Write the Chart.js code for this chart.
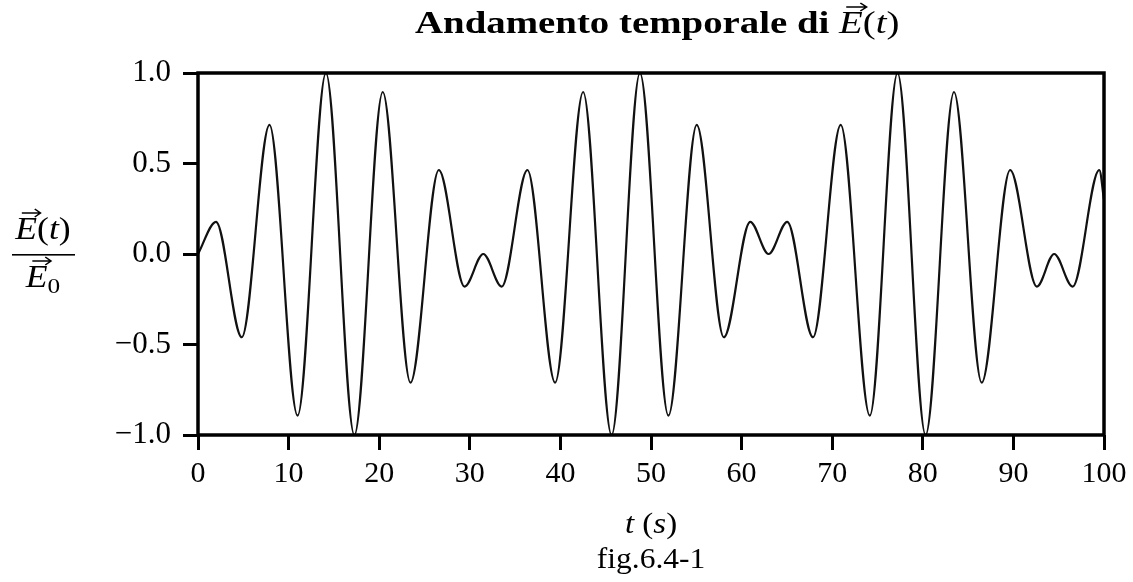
<!DOCTYPE html>
<html lang="it">
<head>
<meta charset="utf-8">
<title>Andamento temporale di E(t)</title>
<script src="https://cdn.jsdelivr.net/npm/chart.js@4.4.1/dist/chart.umd.min.js"></script>
<style>
  html, body { margin: 0; padding: 0; background: #fff; }
  canvas { display: block; }
</style>
</head>
<body>
<canvas id="grafico" width="1133" height="582"></canvas>
<script>
// istanti (s) dei massimi e minimi
const tempi = [
  0, 1.99, 4.83, 7.89, 10.99, 14.12, 17.26, 20.39, 23.45, 26.58,
  29.42, 31.49, 33.52, 36.36, 39.42, 42.51, 45.65, 48.78, 51.92, 55.05,
  58.04, 60.95, 62.98, 65.04, 67.88, 70.94, 74.15, 77.21, 80.31, 83.44,
  86.5, 89.64, 92.59, 94.5, 96.54, 99.48, 100
];
// E(t)/E0 negli stessi istanti
const campo = [
  0, 0.178, -0.46, 0.713, -0.893, 1.0, -1.0, 0.895, -0.711, 0.464,
  -0.18, 0.0, -0.18, 0.464, -0.711, 0.895, -1.0, 1.0, -0.893, 0.713,
  -0.46, 0.178, 0.0, 0.178, -0.46, 0.713, -0.893, 1.0, -1.0, 0.895,
  -0.711, 0.464, -0.18, 0.0, -0.18, 0.464, 0.3
];
const tickX = [0, 10, 20, 30, 40, 50, 60, 70, 80, 90, 100];
const tickY = [-1, -0.5, 0, 0.5, 1];

const FONT = '"Liberation Serif", "Times New Roman", serif';

function freccia(ctx, x0, x1, y) {
  ctx.beginPath();
  ctx.lineWidth = 1.4;
  ctx.moveTo(x0, y);
  ctx.lineTo(x1, y);
  ctx.moveTo(x1 - 5, y - 4);
  ctx.lineTo(x1, y);
  ctx.lineTo(x1 - 5, y + 4);
  ctx.stroke();
}

// scrive una riga fatta di pezzi con font diversi
function scriviRiga(ctx, pezzi, x, y, allinea, scala) {
  scala = scala || 1;
  let larg = 0;
  pezzi.forEach((p) => {
    ctx.font = p.f;
    p.w = ctx.measureText(p.t).width;
    larg += p.w;
  });
  const x0 = allinea === "center" ? x - (larg * scala) / 2 : x;
  ctx.save();
  ctx.translate(x0, y);
  ctx.scale(scala, 1);
  ctx.fillStyle = "#000";
  ctx.strokeStyle = "#000";
  ctx.textBaseline = "alphabetic";
  ctx.textAlign = "left";
  let cx = 0;
  pezzi.forEach((p) => {
    ctx.font = p.f;
    ctx.fillText(p.t, cx, p.dy || 0);
    if (p.vec) freccia(ctx, cx + p.w * 0.3, cx + p.w + 3, (p.dy || 0) - p.vec);
    cx += p.w;
  });
  ctx.restore();
  return larg * scala;
}

const testi = {
  id: "testi",
  afterDraw(chart) {
    const ctx = chart.ctx;
    const a = chart.chartArea;

    // cornice
    ctx.save();
    ctx.strokeStyle = "#000";
    ctx.lineWidth = 3.5;
    ctx.strokeRect(a.left, a.top, a.right - a.left, a.bottom - a.top);
    ctx.restore();

    // titolo, allargato come il grassetto esteso dell'originale
    ctx.font = "bold 31px " + FONT;
    const sTit = 382 / ctx.measureText("Andamento temporale ").width;
    scriviRiga(ctx, [
      { t: "Andamento temporale di ", f: "bold 31px " + FONT },
      { t: "E", f: "italic 31px " + FONT, vec: 26 },
      { t: "(", f: "31px " + FONT },
      { t: "t", f: "italic 31px " + FONT },
      { t: ")", f: "31px " + FONT }
    ], 415, 33, "left", sTit);

    // etichetta asse y: frazione E(t)/E0
    const cxF = 43;
    scriviRiga(ctx, [
      { t: "E", f: "italic 31px " + FONT, vec: 26 },
      { t: "(", f: "31px " + FONT },
      { t: "t", f: "italic 31px " + FONT },
      { t: ")", f: "31px " + FONT }
    ], cxF, 239, "center", 1.15);
    ctx.save();
    ctx.fillStyle = "#000";
    ctx.fillRect(12, 254, 63, 1.6);
    ctx.restore();
    scriviRiga(ctx, [
      { t: "E", f: "italic 31px " + FONT, vec: 26 },
      { t: "0", f: "22px " + FONT, dy: 6 }
    ], cxF, 287, "center", 1.15);

    // etichetta asse x e didascalia
    const cx = (a.left + a.right) / 2;
    scriviRiga(ctx, [
      { t: "t", f: "italic 30px " + FONT },
      { t: " (", f: "30px " + FONT },
      { t: "s", f: "italic 30px " + FONT },
      { t: ")", f: "30px " + FONT }
    ], cx, 533, "center", 1.1);
    scriviRiga(ctx, [{ t: "fig.6.4-1", f: "30px " + FONT }], cx, 568, "center", 1.05);
  }
};

const ctx = document.getElementById("grafico").getContext("2d");

new Chart(ctx, {
  type: "line",
  data: {
    datasets: [
      {
        data: tempi.map((t, i) => ({ x: t, y: campo[i] })),
        borderColor: "#111",
        borderWidth: 2.2,
        pointRadius: 0,
        cubicInterpolationMode: "monotone",
        fill: false
      }
    ]
  },
  options: {
    responsive: false,
    animation: false,
    events: [],
    layout: { padding: { left: 0, right: 29, top: 73, bottom: 0 } },
    plugins: {
      legend: { display: false },
      tooltip: { enabled: false },
      title: { display: false }
    },
    scales: {
      x: {
        type: "linear",
        min: 0,
        max: 100,
        afterBuildTicks: (ax) => { ax.ticks = tickX.map((v) => ({ value: v })); },
        afterFit: (ax) => { ax.height = 147; },
        grid: { drawOnChartArea: false, tickLength: 15, tickWidth: 3, tickColor: "#000" },
        border: { display: false },
        ticks: {
          autoSkip: false,
          maxRotation: 0,
          padding: 6,
          color: "#000",
          font: { family: FONT, size: 30 }
        }
      },
      y: {
        min: -1,
        max: 1,
        afterBuildTicks: (ax) => { ax.ticks = tickY.map((v) => ({ value: v })); },
        afterFit: (ax) => { ax.width = 198; },
        grid: { drawOnChartArea: false, tickLength: 15, tickWidth: 3, tickColor: "#000" },
        border: { display: false },
        ticks: {
          padding: 12,
          color: "#000",
          font: { family: FONT, size: 31 },
          callback: (v) => (v < 0 ? "\u2212" : "") + Math.abs(v).toFixed(1)
        }
      }
    }
  },
  plugins: [testi]
});
</script>
</body>
</html>
